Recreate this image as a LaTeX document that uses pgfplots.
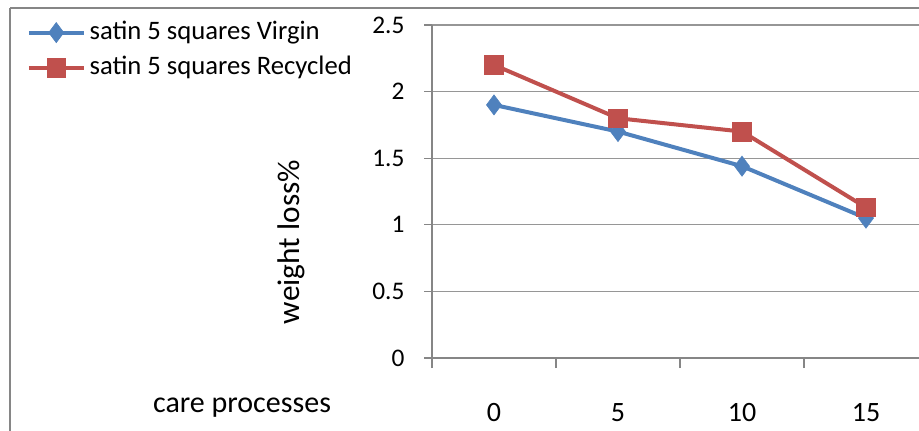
\documentclass[border=0pt]{standalone}
\usepackage{pgfplots}
\pgfplotsset{compat=1.18}
\usepackage{fontspec}
\setmainfont{Carlito}
\definecolor{xlblue}{RGB}{79,129,189}
\definecolor{xlred}{RGB}{192,80,77}
\definecolor{xlgrid}{RGB}{150,150,150}
\definecolor{xlaxis}{RGB}{134,134,134}
\begin{document}
\begin{tikzpicture}
\useasboundingbox (0,0) rectangle (689.25pt,322.5pt);
\clip (0,0) rectangle (689.25pt,322.5pt);
% chart frame and free labels, in reference pixels
\begin{scope}[x=0.75pt,y=0.75pt]
  \draw[xlaxis, line width=1.5pt] (10,422) -- (10,-20) (10,422) -- (940,422);
  \node[font=\fontsize{22.5}{26}\selectfont] at (242,22) {care processes};
  \node[font=\fontsize{23.5}{27}\selectfont, rotate=90] at (291,188) {weight loss\%};
\end{scope}
\begin{axis}[
    at={(324pt,54pt)}, anchor=south west,
    scale only axis,
    width=372pt, height=249.75pt,
    xmin=-0.5, xmax=3.5,
    ymin=0, ymax=2.5,
    axis x line=bottom, axis y line=left,
    axis line style={xlaxis, line width=1pt, -},
    xtick={0,1,2,3},
    xticklabels={0,5,10,15},
    major x tick style={draw=none},
    minor xtick={-0.5,0.5,1.5,2.5,3.5},
    minor x tick style={xlaxis, line width=1pt},
    minor tick length=7.5pt,
    ytick={0,0.5,1,1.5,2,2.5},
    yticklabels={0,0.5,1,1.5,2,2.5},
    y tick style={xlaxis, line width=1pt},
    major tick length=6pt,
    tick align=outside,
    ymajorgrids=true,
    grid style={xlgrid, line width=1pt},
    tick label style={inner sep=0pt},
    yticklabel style={font=\fontsize{19}{22}\selectfont, anchor=east, xshift=-14.5pt},
    xticklabel style={font=\fontsize{21}{24}\selectfont, anchor=north, yshift=-28pt},
    clip=false,
    legend style={
        at={(axis description cs:-0.8226,1.026)}, anchor=north west,
        draw=none, fill=none, inner sep=2pt,
        font=\fontsize{20}{24}\selectfont,
        row sep=6.5pt,
        nodes={inner ysep=1pt, inner xsep=3pt, text height=14pt, text depth=4pt},
    },
    legend cell align=left,
    legend image code/.code={
        \draw[#1, mark=none] (0pt,0pt) -- (41pt,0pt);
        \draw[#1, only marks] plot coordinates {(20.5pt,0pt)};
    },
]
\addplot[xlblue, line width=3pt, mark=diamond*, mark size=7.5pt,
         mark options={solid, line width=0.5pt}]
  coordinates {(0,1.90) (1,1.70) (2,1.44) (3,1.05)};
\addlegendentry{satin 5 squares Virgin}
\addplot[xlred, line width=3pt, mark=square*, mark size=7pt,
         mark options={solid, line width=0.5pt}]
  coordinates {(0,2.20) (1,1.80) (2,1.70) (3,1.13)};
\addlegendentry{satin 5 squares Recycled}
\end{axis}
\end{tikzpicture}
\end{document}
